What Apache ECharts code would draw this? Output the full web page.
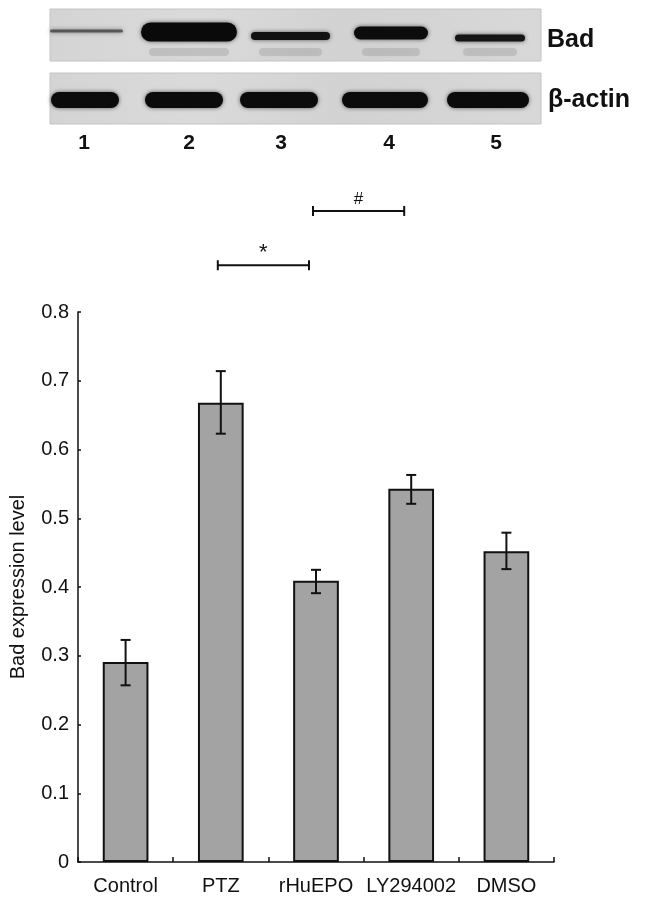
<!DOCTYPE html>
<html>
<head>
<meta charset="utf-8">
<script src="https://cdn.jsdelivr.net/npm/echarts@6/dist/echarts.min.js"></script>
<style>
  html, body { margin: 0; padding: 0; background: #fff; }
  #chart { width: 646px; height: 905px; }
</style>
</head>
<body>
<div id="chart"></div>
<script>
// ---- Data ----
const categories = ['Control', 'PTZ', 'rHuEPO', 'LY294002', 'DMSO'];
const values = [0.291, 0.668, 0.409, 0.543, 0.452];
const errLow = [0.257, 0.623, 0.391, 0.521, 0.426];
const errHigh = [0.323, 0.714, 0.425, 0.563, 0.479];
const sigFrom = [1, 2];
const sigTo = [2, 3];
const sigLevel = [0.868, 0.947];
const sigMark = ['*', '#'];
const yTicks = [0, 0.1, 0.2, 0.3, 0.4, 0.5, 0.6, 0.7, 0.8];
const laneLabels = ['1', '2', '3', '4', '5'];
const blotLabels = ['Bad', '\u03b2-actin'];

// ---- Blot decoration (styling/geometry, not data) ----
const laneX = [[50, 123], [141, 237], [251, 330], [354, 428], [455, 525]];
const actinX = [[51, 119], [145, 223], [240, 318], [342, 428], [447, 529]];
const badBand = [
  {cy: 31, h: 3, c: 'rgba(50,50,50,0.7)'},
  {cy: 32, h: 19, c: '#0a0a0a'},
  {cy: 36, h: 8, c: '#111'},
  {cy: 33, h: 13, c: '#0c0c0c'},
  {cy: 38, h: 7, c: '#151515'}
];
const panelBad = {x: 50, y: 9, w: 491, h: 52};
const panelActin = {x: 50, y: 73, w: 491, h: 51};

const chart = echarts.init(document.getElementById('chart'), null, {renderer: 'canvas'});
const FONT = "'Liberation Sans', Arial, sans-serif";
const BOLDFONT = "'Liberation Sans Narrow', 'Liberation Sans', Arial, sans-serif";

const graphics = [];
function panel(p) {
  graphics.push({
    type: 'rect', shape: {x: p.x, y: p.y, width: p.w, height: p.h},
    style: {
      fill: new echarts.graphic.LinearGradient(0, 0, 1, 0, [
        {offset: 0, color: '#d4d4d4'}, {offset: 0.3, color: '#dadada'},
        {offset: 0.6, color: '#d2d2d2'}, {offset: 1, color: '#d8d8d8'}
      ]),
      stroke: '#c4c4c4', lineWidth: 1
    }, z: 1
  });
}
panel(panelBad);
panel(panelActin);
// faint lower bands in Bad panel
laneX.forEach(function (lx, i) {
  if (i === 0) return;
  graphics.push({
    type: 'rect', shape: {x: lx[0] + 8, y: panelBad.y + 39, width: lx[1] - lx[0] - 16, height: 8, r: 4},
    style: {fill: 'rgba(120,120,120,0.22)', shadowBlur: 6, shadowColor: 'rgba(120,120,120,0.3)'}, z: 2
  });
});
laneX.forEach(function (lx, i) {
  const b = badBand[i];
  graphics.push({
    type: 'rect', shape: {x: lx[0], y: b.cy - b.h / 2, width: lx[1] - lx[0], height: b.h, r: b.h / 2},
    style: {fill: b.c, shadowBlur: 4, shadowColor: 'rgba(0,0,0,0.6)'}, z: 3
  });
});
actinX.forEach(function (lx) {
  const cy = 100, h = 16;
  graphics.push({
    type: 'rect', shape: {x: lx[0], y: cy - h / 2, width: lx[1] - lx[0], height: h, r: h / 2},
    style: {fill: '#0b0b0b', shadowBlur: 4, shadowColor: 'rgba(0,0,0,0.6)'}, z: 3
  });
});
graphics.push({
  type: 'text', x: 547, y: 40,
  style: {text: blotLabels[0], font: 'bold 25px ' + BOLDFONT, fill: '#111', verticalAlign: 'middle'}, z: 5
});
graphics.push({
  type: 'text', x: 548, y: 100,
  style: {text: blotLabels[1], font: 'bold 25px ' + BOLDFONT, fill: '#111', verticalAlign: 'middle'}, z: 5
});
const numX = [84, 189, 281, 389, 496];
laneLabels.forEach(function (t, i) {
  graphics.push({
    type: 'text', x: numX[i], y: 143,
    style: {text: t, font: 'bold 21px ' + BOLDFONT, fill: '#111', align: 'center', verticalAlign: 'middle'}, z: 5
  });
});

const option = {
  backgroundColor: '#fff',
  animation: false,
  grid: {left: 78, right: 92, top: 312, bottom: 43, containLabel: false},
  xAxis: {
    type: 'category',
    data: categories,
    boundaryGap: true,
    axisLine: {lineStyle: {color: '#111', width: 1.5}},
    axisTick: {show: true, inside: true, length: 5, lineStyle: {color: '#111', width: 1.5}},
    axisLabel: {color: '#111', fontSize: 20, fontFamily: FONT, margin: 14, interval: 0}
  },
  yAxis: {
    type: 'value',
    min: 0, max: 0.8, interval: 0.1,
    name: 'Bad expression level',
    nameLocation: 'middle',
    nameGap: 50,
    nameRotate: 90,
    nameTextStyle: {color: '#111', fontSize: 20, fontFamily: FONT},
    axisLine: {show: true, lineStyle: {color: '#111', width: 1.5}},
    axisTick: {show: true, inside: true, length: 3, lineStyle: {color: '#111', width: 1.5}},
    splitLine: {show: false},
    axisLabel: {
      color: '#111', fontSize: 20, fontFamily: FONT, margin: 9,
      formatter: function (v) { return v === 0 ? '0' : v.toFixed(1); }
    }
  },
  series: [
    {
      type: 'bar',
      data: values,
      barWidth: '48%',
      itemStyle: {color: '#a3a3a3', borderColor: '#111', borderWidth: 2},
      z: 2
    },
    {
      type: 'custom',
      z: 5,
      data: categories.map(function (c, i) { return [i, errLow[i], errHigh[i]]; }),
      encode: {x: 0, y: [1, 2]},
      renderItem: function (params, api) {
        const lo = api.coord([api.value(0), api.value(1)]);
        const hi = api.coord([api.value(0), api.value(2)]);
        const cw = 5;
        const st = {stroke: '#111', lineWidth: 2};
        return {
          type: 'group',
          children: [
            {type: 'line', shape: {x1: lo[0], y1: lo[1], x2: hi[0], y2: hi[1]}, style: st},
            {type: 'line', shape: {x1: lo[0] - cw, y1: lo[1], x2: lo[0] + cw, y2: lo[1]}, style: st},
            {type: 'line', shape: {x1: hi[0] - cw, y1: hi[1], x2: hi[0] + cw, y2: hi[1]}, style: st}
          ]
        };
      }
    },
    {
      type: 'custom',
      z: 5,
      clip: false,
      data: sigFrom.map(function (f, i) { return [f, sigLevel[i], sigTo[i]]; }),
      encode: {x: 0, y: 1},
      renderItem: function (params, api) {
        const i = params.dataIndex;
        const p1 = api.coord([api.value(0), api.value(1)]);
        const p2 = api.coord([api.value(2), api.value(1)]);
        const x1 = p1[0] - 3, x2 = p2[0] - 7, y = p1[1];
        const st = {stroke: '#111', lineWidth: 2};
        return {
          type: 'group',
          children: [
            {type: 'line', shape: {x1: x1, y1: y, x2: x2, y2: y}, style: st},
            {type: 'line', shape: {x1: x1, y1: y - 5, x2: x1, y2: y + 5}, style: st},
            {type: 'line', shape: {x1: x2, y1: y - 5, x2: x2, y2: y + 5}, style: st},
            {type: 'text', x: (x1 + x2) / 2, y: y - 12,
              style: {text: sigMark[i], font: (i === 0 ? '22px ' : '17px ') + FONT, fill: '#111', align: 'center', verticalAlign: 'middle'}}
          ]
        };
      }
    }
  ],
  graphic: graphics
};
chart.setOption(option);
</script>
</body>
</html>
